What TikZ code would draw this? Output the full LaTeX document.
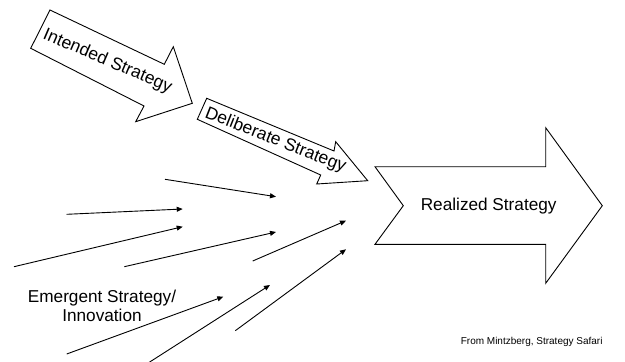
\documentclass[tikz,border=0pt]{standalone}
\usepackage{fontspec}
\setmainfont{Liberation Sans}
\usetikzlibrary{arrows.meta}
\begin{document}
\begin{tikzpicture}[x=1pt,y=-1pt,
  bigarrow/.style={draw=black,line width=0.9pt,fill=white,line join=miter},
  lbl/.style={inner sep=0pt,font=\fontsize{17.2}{19}\selectfont},
  rlbl/.style={inner sep=0pt,font=\fontsize{17.5}{19}\selectfont},
  thin/.style={draw=black,line width=0.9pt,-{Triangle[length=6pt,width=5pt]}}]
\useasboundingbox (0,0) rectangle (625,362);
% Intended Strategy arrow
\draw[bigarrow] (50,10) -- (164.3,64.3) -- (173.3,46.7) -- (192.3,103.3) -- (135.7,121.7) -- (144,106) -- (30.7,48.3) -- cycle;
\node[rlbl,rotate=-23.2] (intended) at (107.5,61.5) {Intended Strategy};
% Deliberate Strategy arrow
\draw[bigarrow] (206.7,98.3) -- (334,151) -- (335.7,141.7) -- (367.7,180.7) -- (316.7,184) -- (320.7,175) -- (197.3,119.3) -- cycle;
\node[rlbl,rotate=-21.5] (deliberate) at (275.5,140.5) {Deliberate Strategy};
% Realized Strategy arrow
\draw[bigarrow] (375,166.7) -- (545.7,166.7) -- (545.7,127.7) -- (602.3,205.7) -- (545.7,283.3) -- (545.7,244.3) -- (375,244.3) -- (403.3,205.7) -- cycle;
\node[lbl] (realized) at (488.7,205.7) {Realized Strategy};
% Emergent label
\node[lbl,align=center] (emergent) at (102,305.5) {Emergent Strategy/\\Innovation};
% thin arrows
\coordinate (s1) at (165,179.3);   \coordinate (e1) at (276,196.7);
\coordinate (s2) at (66.7,214.3);  \coordinate (e2) at (182.7,209);
\coordinate (s3) at (14,266.7);    \coordinate (e3) at (182.7,226.7);
\coordinate (s4) at (124.3,266.7); \coordinate (e4) at (276,232);
\coordinate (s5) at (252.7,261);   \coordinate (e5) at (346,220.7);
\coordinate (s6) at (66.7,354);    \coordinate (e6) at (223.3,296.7);
\coordinate (s7) at (147.7,363.3); \coordinate (e7) at (270,285);
\coordinate (s8) at (235.3,330.7); \coordinate (e8) at (346,249.3);
\foreach \i in {1,...,8} {\draw[thin] (s\i) -- (e\i);}
% source
\node[inner sep=0pt,font=\fontsize{10}{12}\selectfont] (source) at (531.7,341.7) {From Mintzberg, Strategy Safari};
\end{tikzpicture}
\end{document}
